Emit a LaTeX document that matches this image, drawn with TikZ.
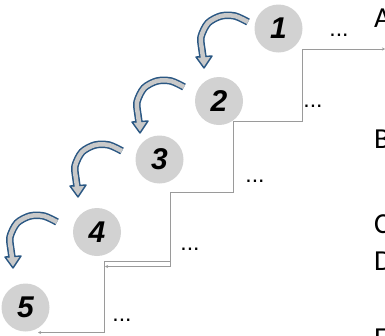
\documentclass[tikz,border=0pt]{standalone}
\usepackage{fontspec}
\setmainfont{Liberation Sans}
\newfontfamily\lettersfont{Carlito}
\usetikzlibrary{arrows.meta}
\definecolor{arrowblue}{HTML}{2A5783}
\definecolor{arrowfill}{HTML}{C9C9C9}
\definecolor{discgray}{HTML}{D2D2D2}
\definecolor{stairgray}{HTML}{9A9A9A}

\begin{document}
\begin{tikzpicture}[x=1pt,y=-1pt,
    stepdisc/.style={circle,fill=discgray,minimum size=48pt,inner sep=0pt,
      font=\fontsize{30}{30}\selectfont\bfseries\itshape},
    dots/.style={inner sep=0pt,font=\fontsize{23}{23}\selectfont},
    sidelabel/.style={anchor=base west,inner sep=0pt,
      font=\lettersfont\fontsize{29}{29}\selectfont},
    stair/.style={stairgray,line width=0.9pt}]
    \useasboundingbox (0,0) rectangle (385,335);
    % the staircase
    \draw[stair,{Stealth[length=3pt,width=3pt]}-{Stealth[length=3pt,width=3pt]}]
      (105,266.5) -- (170,266.5) -- (170,192.5) -- (233,192.5) -- (233,121)
      -- (302,121) -- (302,49) -- (385,49);
    \draw[stair,-{Stealth[length=3pt,width=3pt]}]
      (170,261.5) -- (104,261.5) -- (104,332.5) -- (38,332.5);
    % numbered discs
    \node[stepdisc] (n1) at (278.5,28.5) {1};
    \node[stepdisc] (n2) at (219,101) {2};
    \node[stepdisc] (n3) at (159.5,159.5) {3};
    \node[stepdisc] (n4) at (97,232) {4};
    \node[stepdisc] (n5) at (25.5,307.5) {5};
    % dots on each step
    \node[dots] (d1) at (339,35) {...};
    \node[dots] (d2) at (313,106) {...};
    \node[dots] (d3) at (255,181) {...};
    \node[dots] (d4) at (190,249) {...};
    \node[dots] (d5) at (122,320) {...};
    % letters at the right edge
    \node[sidelabel] (la) at (374,27) {A};
    \node[sidelabel] (lb) at (374,148) {B};
    \node[sidelabel] (lc) at (374,233) {C};
    \node[sidelabel] (ld) at (374,270) {D};
    \node[sidelabel] (le) at (374,347) {E};
    % curved arrows from one disc to the next
    \foreach \tx/\ty in {204/68,140/133,78/197,13/268}{
      \begin{scope}[shift={(\tx,\ty)}]
        \filldraw[fill=arrowfill,draw=arrowblue,line width=1.4pt,line join=round]
          (-8,-11) -- (0,0) -- (8,-12) -- cycle;
        \draw[arrowblue,line width=7.5pt] plot[smooth] coordinates
          {(44,-46) (31,-52) (17,-52) (4,-45) (-3,-31) (-2,-18) (-1,-11)};
        \draw[arrowfill,line width=4.5pt,shorten >=-2pt] plot[smooth] coordinates
          {(44,-46) (31,-52) (17,-52) (4,-45) (-3,-31) (-2,-18) (-1,-11)};
      \end{scope}}
\end{tikzpicture}
\end{document}
